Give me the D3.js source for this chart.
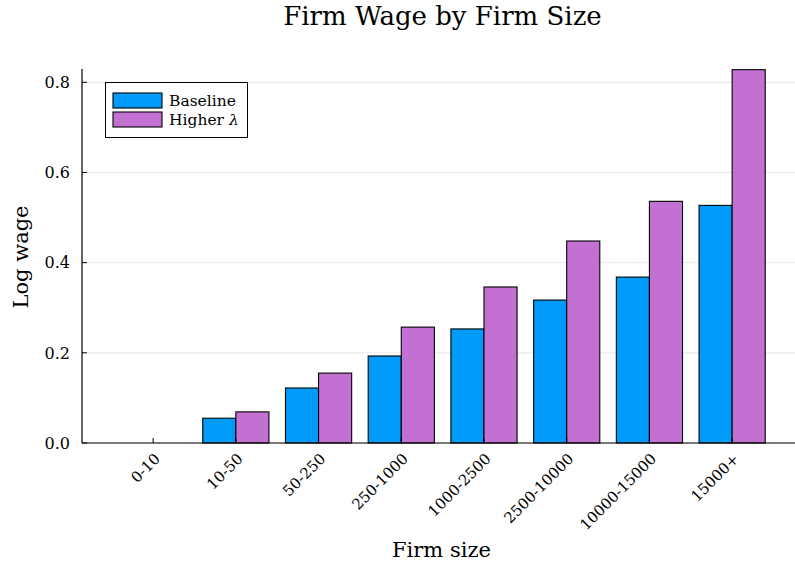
<!DOCTYPE html>
<html>
<head>
<meta charset="utf-8">
<script src="https://cdn.jsdelivr.net/npm/d3@7"></script>
<style>
  html, body { margin: 0; padding: 0; background: #fff; }
  svg { display: block; font-family: "DejaVu Serif", "Liberation Serif", serif; }
</style>
</head>
<body>
<svg id="chart" width="795" height="569"></svg>
<script>
// Firm size groups and log wage by scenario
const categories = ["0-10", "10-50", "50-250", "250-1000", "1000-2500", "2500-10000", "10000-15000", "15000+"];
const baseline = [0.0, 0.055, 0.122, 0.193, 0.253, 0.317, 0.368, 0.527];
const higherLambda = [0.0, 0.069, 0.155, 0.257, 0.346, 0.448, 0.536, 0.828];
const seriesNames = ["Baseline", "Higher λ"];
const seriesColors = ["#009AFA", "#C271D2"];
const yTicks = [0.0, 0.2, 0.4, 0.6, 0.8];

const svg = d3.select("#chart");
const frame = { left: 82, right: 795, top: 69, bottom: 443 };

// Categories sit at integer positions 1..8
const x = d3.scaleLinear().domain([0.14, 8.76]).range([frame.left, frame.right]);
const y = d3.scaleLinear().domain([0, 0.8]).range([frame.bottom, 82.3]);
const barW = 0.4;

const series = [baseline, higherLambda];

// Horizontal grid
svg.append("g").selectAll("line").data(yTicks).join("line")
  .attr("x1", frame.left).attr("x2", frame.right)
  .attr("y1", d => y(d)).attr("y2", d => y(d))
  .attr("stroke", "#e8e8e8").attr("stroke-width", 1);

// Bars
series.forEach((vals, s) => {
  svg.append("g").selectAll("rect").data(vals).join("rect")
    .attr("x", (d, i) => x(i + 1 - barW + s * barW))
    .attr("width", x(barW) - x(0))
    .attr("y", d => y(d))
    .attr("height", d => y(0) - y(d))
    .attr("fill", seriesColors[s])
    .attr("stroke", "#000").attr("stroke-width", 1.1);
});

// Axis lines
svg.append("line").attr("x1", frame.left).attr("x2", frame.left)
  .attr("y1", frame.top).attr("y2", frame.bottom)
  .attr("stroke", "#000").attr("stroke-width", 1.2);
svg.append("line").attr("x1", frame.left).attr("x2", frame.right)
  .attr("y1", frame.bottom).attr("y2", frame.bottom)
  .attr("stroke", "#000").attr("stroke-width", 1.2);

// Y ticks and labels
const yAxis = svg.append("g");
yAxis.selectAll("line").data(yTicks).join("line")
  .attr("x1", frame.left).attr("x2", frame.left + 5)
  .attr("y1", d => y(d)).attr("y2", d => y(d))
  .attr("stroke", "#000").attr("stroke-width", 1);
yAxis.selectAll("text").data(yTicks).join("text")
  .attr("x", 70).attr("y", d => y(d))
  .attr("dy", "0.36em")
  .attr("text-anchor", "end")
  .attr("font-size", 16)
  .text(d => d3.format(".1f")(d));

// X ticks and rotated labels
const xAxis = svg.append("g");
xAxis.selectAll("line").data(categories).join("line")
  .attr("x1", (d, i) => x(i + 1)).attr("x2", (d, i) => x(i + 1))
  .attr("y1", frame.bottom).attr("y2", frame.bottom - 5)
  .attr("stroke", "#000").attr("stroke-width", 1);
xAxis.selectAll("text").data(categories).join("text")
  .attr("transform", (d, i) => `translate(${x(i + 1) + 4},${frame.bottom + 13}) rotate(-45)`)
  .attr("text-anchor", "end")
  .attr("dy", "0.36em")
  .attr("font-size", 15)
  .text(d => d);

// Title and axis titles
svg.append("text").attr("x", 442.5).attr("y", 25)
  .attr("text-anchor", "middle").attr("font-size", 26)
  .text("Firm Wage by Firm Size");
svg.append("text").attr("x", 441.5).attr("y", 557)
  .attr("text-anchor", "middle").attr("font-size", 21)
  .text("Firm size");
svg.append("text").attr("transform", "translate(28,257) rotate(-90)")
  .attr("text-anchor", "middle").attr("font-size", 21)
  .text("Log wage");

// Legend
const legend = svg.append("g");
legend.append("rect").attr("x", 105.5).attr("y", 82.5).attr("width", 142).attr("height", 55)
  .attr("fill", "#fff").attr("stroke", "#000").attr("stroke-width", 1);
seriesNames.forEach((name, s) => {
  const yy = 93 + s * 19;
  legend.append("rect").attr("x", 113).attr("y", yy).attr("width", 49).attr("height", 15)
    .attr("fill", seriesColors[s]).attr("stroke", "#000").attr("stroke-width", 1.1);
  const t = legend.append("text").attr("x", 169).attr("y", yy + 7.5).attr("dy", "0.36em")
    .attr("font-size", 15.5);
  if (name.endsWith("λ")) {
    t.append("tspan").text(name.slice(0, -1));
    t.append("tspan").attr("font-style", "italic").text("λ");
  } else {
    t.text(name);
  }
});
</script>
</body>
</html>
